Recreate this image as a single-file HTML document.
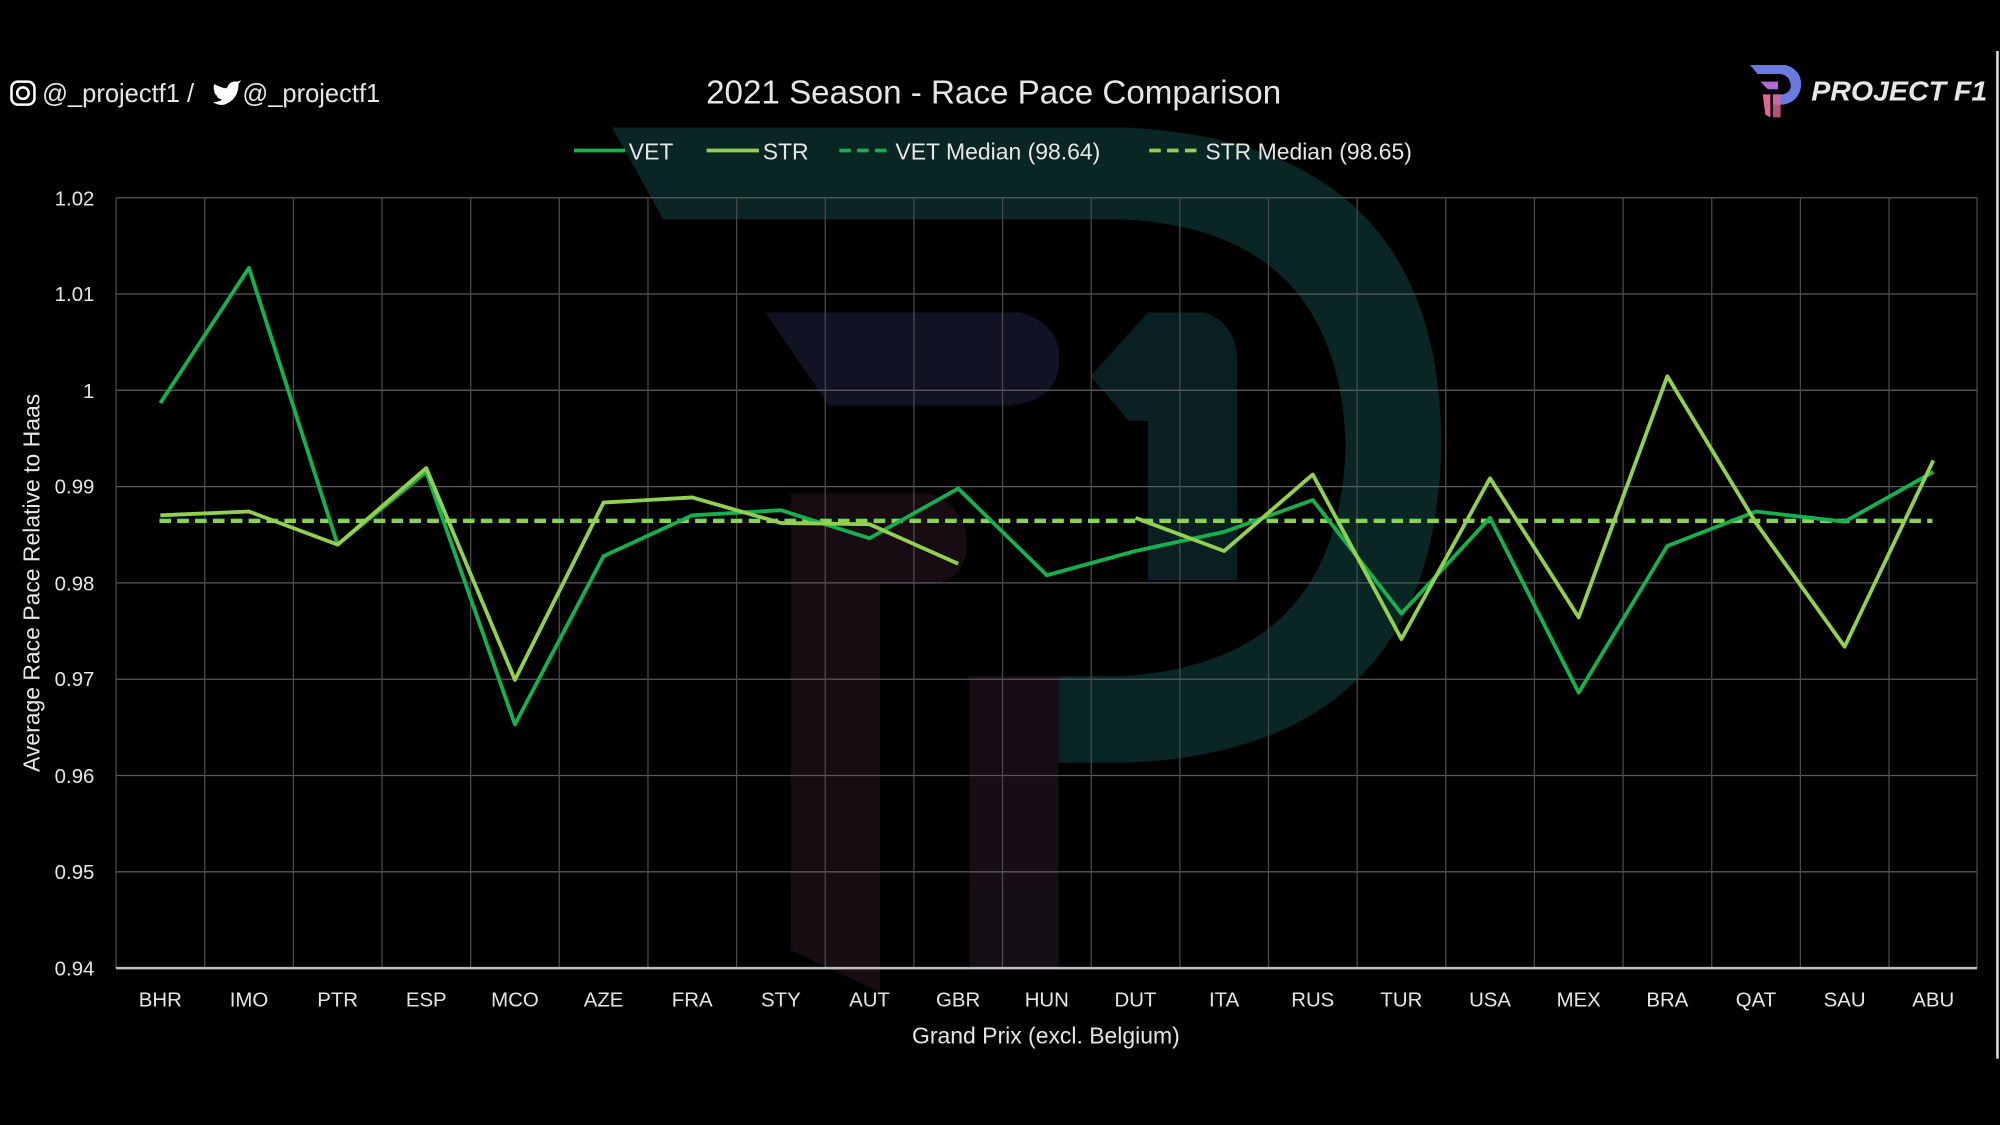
<!DOCTYPE html>
<html><head><meta charset="utf-8"><style>
html,body{margin:0;padding:0;background:#000;}
svg{display:block;}
text{font-family:"Liberation Sans",sans-serif;fill:#e6e6e6;}
</style></head><body>
<svg width="2000" height="1125" viewBox="0 0 1568 882" xmlns="http://www.w3.org/2000/svg">
<rect width="1568" height="882" fill="#000"/>
<!-- watermark -->
<g opacity="0.85">
<path d="M480,100 L880,100 Q1130,110 1130,350 Q1125,590 880,598 L830,598 L760,598 L760,530 L880,530 Q1050,520 1055,350 Q1050,180 880,172 L520,172 Z" fill="#0b2c2a"/>
<path d="M760,530 L830,530 L830,760 L760,760 Z" fill="#1a1019"/>
<path d="M600,245 L800,245 Q835,255 830,290 Q825,315 790,318 L650,318 Z" fill="#15162a"/>
<path d="M855,295 L900,245 L945,245 Q972,255 970,290 L970,455 L900,455 L900,330 L885,330 Z" fill="#0c2529"/>
<path d="M620,387 L690,387 L690,778 L620,745 Z" fill="#1c0f16"/>
<path d="M690,387 L730,387 Q760,400 758,430 Q755,455 730,458 L690,458 Z" fill="#1c0f16"/>
</g>
<!-- grid -->
<g stroke="#5a5a5a" stroke-width="1">
<line x1="91" y1="155" x2="1550" y2="155"/>
<line x1="91" y1="230.5" x2="1550" y2="230.5"/>
<line x1="91" y1="306" x2="1550" y2="306"/>
<line x1="91" y1="381.5" x2="1550" y2="381.5"/>
<line x1="91" y1="457" x2="1550" y2="457"/>
<line x1="91" y1="532.5" x2="1550" y2="532.5"/>
<line x1="91" y1="608" x2="1550" y2="608"/>
<line x1="91" y1="683.5" x2="1550" y2="683.5"/>
</g>
<g stroke="#4a4a4a" stroke-width="1">
<line x1="91" y1="155" x2="91" y2="759"/><line x1="160.5" y1="155" x2="160.5" y2="759"/><line x1="230" y1="155" x2="230" y2="759"/><line x1="299.5" y1="155" x2="299.5" y2="759"/><line x1="369" y1="155" x2="369" y2="759"/><line x1="438.5" y1="155" x2="438.5" y2="759"/><line x1="508" y1="155" x2="508" y2="759"/><line x1="577.5" y1="155" x2="577.5" y2="759"/><line x1="647" y1="155" x2="647" y2="759"/><line x1="716.5" y1="155" x2="716.5" y2="759"/><line x1="786" y1="155" x2="786" y2="759"/><line x1="855.5" y1="155" x2="855.5" y2="759"/><line x1="925" y1="155" x2="925" y2="759"/><line x1="994.5" y1="155" x2="994.5" y2="759"/><line x1="1064" y1="155" x2="1064" y2="759"/><line x1="1133.5" y1="155" x2="1133.5" y2="759"/><line x1="1203" y1="155" x2="1203" y2="759"/><line x1="1272.5" y1="155" x2="1272.5" y2="759"/><line x1="1342" y1="155" x2="1342" y2="759"/><line x1="1411.5" y1="155" x2="1411.5" y2="759"/><line x1="1481" y1="155" x2="1481" y2="759"/><line x1="1550" y1="155" x2="1550" y2="759"/>
</g>
<line x1="91" y1="759" x2="1550" y2="759" stroke="#bfbfbf" stroke-width="2"/>
<!-- y labels -->
<g font-size="16" text-anchor="end">
<text x="74" y="161">1.02</text><text x="74" y="236">1.01</text><text x="74" y="312">1</text><text x="74" y="387">0.99</text><text x="74" y="463">0.98</text><text x="74" y="538">0.97</text><text x="74" y="614">0.96</text><text x="74" y="689">0.95</text><text x="74" y="765">0.94</text>
</g>
<g font-size="16" text-anchor="middle">
<text x="125.7" y="789">BHR</text><text x="195.2" y="789">IMO</text><text x="264.7" y="789">PTR</text><text x="334.2" y="789">ESP</text><text x="403.7" y="789">MCO</text><text x="473.2" y="789">AZE</text><text x="542.7" y="789">FRA</text><text x="612.2" y="789">STY</text><text x="681.7" y="789">AUT</text><text x="751.2" y="789">GBR</text><text x="820.7" y="789">HUN</text><text x="890.2" y="789">DUT</text><text x="959.7" y="789">ITA</text><text x="1029.2" y="789">RUS</text><text x="1098.7" y="789">TUR</text><text x="1168.2" y="789">USA</text><text x="1237.7" y="789">MEX</text><text x="1307.2" y="789">BRA</text><text x="1376.7" y="789">QAT</text><text x="1446.2" y="789">SAU</text><text x="1515.7" y="789">ABU</text>
</g>
<text x="820" y="818" font-size="18" text-anchor="middle">Grand Prix (excl. Belgium)</text>
<text transform="translate(31,457) rotate(-90)" font-size="18" text-anchor="middle">Average Race Pace Relative to Haas</text>
<!-- medians -->
<line x1="125" y1="408" x2="1515" y2="408" stroke="#17b04f" stroke-width="3" stroke-dasharray="9,5"/>
<line x1="125" y1="408.5" x2="1515" y2="408.5" stroke="#92d050" stroke-width="3" stroke-dasharray="9,5"/>
<!-- series -->
<polyline fill="none" stroke="#17b04f" stroke-width="3" stroke-linejoin="round" points="125.7,316 195.2,210 264.7,427 334.2,370 403.7,568 473.2,436 542.7,404 612.2,400 681.7,422 751.2,383 820.7,451 890.2,432 959.7,417 1029.2,392 1098.7,481 1168.2,406 1237.7,543 1307.2,428 1376.7,401 1446.2,409 1515.7,370"/>
<polyline fill="none" stroke="#92d050" stroke-width="3" stroke-linejoin="round" points="125.7,404 195.2,401 264.7,427 334.2,367 403.7,533 473.2,394 542.7,390 612.2,410 681.7,411 751.2,442"/>
<polyline fill="none" stroke="#92d050" stroke-width="3" stroke-linejoin="round" points="890.2,406 959.7,432 1029.2,372 1098.7,501 1168.2,375 1237.7,484 1307.2,295 1376.7,410 1446.2,507 1515.7,361"/>
<!-- title & legend -->
<text x="779" y="81" font-size="26" text-anchor="middle" fill="#f0f0f0">2021 Season - Race Pace Comparison</text>
<g font-size="18">
<line x1="450" y1="118" x2="490" y2="118" stroke="#17b04f" stroke-width="3"/><text x="493" y="125">VET</text>
<line x1="554" y1="118" x2="595" y2="118" stroke="#92d050" stroke-width="3"/><text x="598" y="125">STR</text>
<line x1="658" y1="118" x2="698" y2="118" stroke="#17b04f" stroke-width="3" stroke-dasharray="9,5"/><text x="702" y="125">VET Median (98.64)</text>
<line x1="901" y1="118" x2="941" y2="118" stroke="#92d050" stroke-width="3" stroke-dasharray="9,5"/><text x="945" y="125">STR Median (98.65)</text>
</g>
<!-- handles -->
<rect x="9" y="64" width="18" height="18" rx="5" fill="none" stroke="#fff" stroke-width="2"/>
<circle cx="18" cy="73" r="4.5" fill="none" stroke="#fff" stroke-width="2"/>
<text x="33" y="80" font-size="20" fill="#fff">@_projectf1 /</text>
<path d="M168,66 Q176,70 178,69 Q180,63 186,64 L189,63 L187,66 Q187,78 176,82 Q171,83 167,80 Q172,80 174,78 Q170,77 170,75 Q168,74 168,71 Q167,69 168,66 Z" fill="#fff"/>
<text x="190" y="80" font-size="20" fill="#fff">@_projectf1</text>
<!-- logo -->
<path d="M1372,51 L1400,51 Q1413,55 1412,68 Q1410,80 1398,82 L1390,82 L1390,74 L1398,74 Q1404,72 1404,67 Q1403,59 1396,58 L1378,58 Z" fill="#6a7be0"/>
<path d="M1380,64 L1394,64 L1394,70 L1386,70 Z" fill="#b36ad8"/>
<path d="M1382,74 L1388,74 L1388,92 L1384,90 Z" fill="#e0669a"/>
<path d="M1390,74 L1396,74 L1396,92 L1390,92 Z" fill="#e0669a" opacity="0.8"/>
<text x="1420" y="79" font-size="22" font-weight="bold" font-style="italic" fill="#fff" textLength="138" lengthAdjust="spacingAndGlyphs">PROJECT F1</text>
<line x1="1566" y1="40" x2="1566" y2="830" stroke="#ddd" stroke-width="2"/>
</svg>
</body></html>
